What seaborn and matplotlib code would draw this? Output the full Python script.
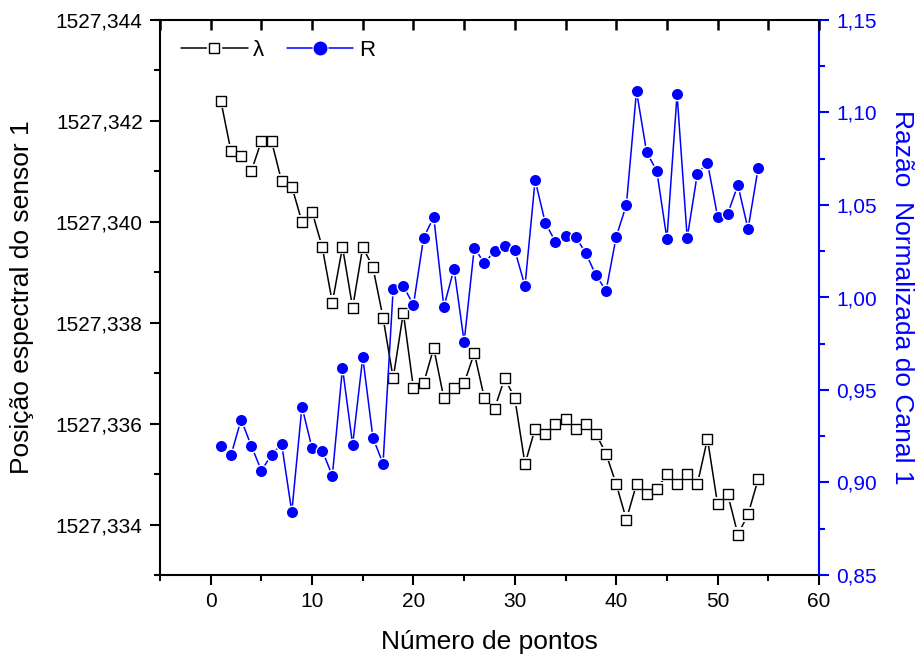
import matplotlib
matplotlib.use("Agg")
import matplotlib.pyplot as plt
from matplotlib.lines import Line2D
from matplotlib.legend_handler import HandlerTuple
from matplotlib.ticker import FixedLocator, FuncFormatter
import numpy as np
import pandas as pd
import seaborn as sns

# Measurement index
pontos = list(range(1, 55))

# Spectral position of sensor 1 (nm)
lam = [1527.3424, 1527.3414, 1527.3413, 1527.3410, 1527.3416, 1527.3416, 1527.3408, 1527.3407, 1527.3400, 1527.3402,
       1527.3395, 1527.3384, 1527.3395, 1527.3383, 1527.3395, 1527.3391, 1527.3381, 1527.3369, 1527.3382, 1527.3367,
       1527.3368, 1527.3375, 1527.3365, 1527.3367, 1527.3368, 1527.3374, 1527.3365, 1527.3363, 1527.3369, 1527.3365,
       1527.3352, 1527.3359, 1527.3358, 1527.3360, 1527.3361, 1527.3359, 1527.3360, 1527.3358, 1527.3354, 1527.3348,
       1527.3341, 1527.3348, 1527.3346, 1527.3347, 1527.3350, 1527.3348, 1527.3350, 1527.3348, 1527.3357, 1527.3344,
       1527.3346, 1527.3338, 1527.3342, 1527.3349]

# Normalised ratio of channel 1
razao = [0.9197, 0.9147, 0.9340, 0.9199, 0.9064, 0.9150, 0.9208, 0.8840, 0.9410, 0.9185,
         0.9172, 0.9037, 0.9619, 0.9204, 0.9677, 0.9242, 0.9102, 1.0048, 1.0062, 0.9960,
         1.0323, 1.0435, 0.9949, 1.0156, 0.9760, 1.0269, 1.0185, 1.0253, 1.0278, 1.0255,
         1.0062, 1.0635, 1.0404, 1.0302, 1.0332, 1.0327, 1.0240, 1.0120, 1.0037, 1.0329,
         1.0500, 1.1116, 1.0785, 1.0684, 1.0316, 1.1098, 1.0322, 1.0669, 1.0729, 1.0437,
         1.0453, 1.0608, 1.0370, 1.0700]

# Axis ticks
x_ticks = [0, 10, 20, 30, 40, 50, 60]
x_minor = [-5, 5, 15, 25, 35, 45, 55]
lam_ticks = [1527.334, 1527.336, 1527.338, 1527.340, 1527.342, 1527.344]
lam_minor = [1527.333, 1527.335, 1527.337, 1527.339, 1527.341, 1527.343]
r_ticks = [0.85, 0.90, 0.95, 1.00, 1.05, 1.10, 1.15]
r_minor = [0.875, 0.925, 0.975, 1.025, 1.075, 1.125]

df = pd.DataFrame({"pontos": pontos, "lam": lam, "razao": razao})

sns.set_style("ticks")
plt.rcParams["font.family"] = ["Liberation Sans", "DejaVu Sans"]
plt.rcParams["text.color"] = "black"
plt.rcParams["axes.labelcolor"] = "black"
plt.rcParams["xtick.color"] = "black"
plt.rcParams["ytick.color"] = "black"

BLUE = "#0000ff"
fig = plt.figure(figsize=(9.19, 6.62), dpi=100)
ax = fig.add_axes([160 / 919, 1 - 575 / 662, 659 / 919, 555 / 662])
ax2 = ax.twinx()

# Wavelength series: line, white halo, open squares
sns.lineplot(data=df, x="pontos", y="lam", ax=ax, color="black", lw=1.1, zorder=2)
sns.scatterplot(data=df, x="pontos", y="lam", ax=ax, marker="s", s=110, color="white",
                edgecolor="none", zorder=3)
sns.scatterplot(data=df, x="pontos", y="lam", ax=ax, marker="s", s=50, color="white",
                edgecolor="black", linewidth=1.0, zorder=4)

# Ratio series: line and filled circles
sns.lineplot(data=df, x="pontos", y="razao", ax=ax2, color=BLUE, lw=1.1, zorder=2)
sns.scatterplot(data=df, x="pontos", y="razao", ax=ax2, marker="o", s=80, color=BLUE,
                edgecolor="white", linewidth=1.0, zorder=4)

ax.set_xlim(-5, 60)
ax.set_ylim(1527.333, 1527.344)
ax2.set_ylim(0.85, 1.15)

comma = lambda fmt: FuncFormatter(lambda v, p: (fmt % v).replace(".", ","))
ax.xaxis.set_major_locator(FixedLocator(x_ticks))
ax.xaxis.set_minor_locator(FixedLocator(x_minor))
ax.yaxis.set_major_locator(FixedLocator(lam_ticks))
ax.yaxis.set_minor_locator(FixedLocator(lam_minor))
ax.yaxis.set_major_formatter(comma("%.3f"))
ax2.yaxis.set_major_locator(FixedLocator(r_ticks))
ax2.yaxis.set_minor_locator(FixedLocator(r_minor))
ax2.yaxis.set_major_formatter(comma("%.2f"))

lw_axis = 1.5
for s in ax.spines.values():
    s.set_linewidth(lw_axis)
    s.set_color("black")
for name, s in ax2.spines.items():
    s.set_linewidth(lw_axis)
    if name == "right":
        s.set_color(BLUE)
    else:
        s.set_visible(False)
ax.spines["right"].set_visible(False)

ax.tick_params(axis="both", which="major", direction="out", length=7.5, width=lw_axis,
               labelsize=15, colors="black", pad=5)
ax.tick_params(axis="both", which="minor", direction="out", length=4, width=lw_axis,
               colors="black")
ax2.tick_params(axis="y", which="major", direction="out", length=7.5, width=lw_axis,
                labelsize=15, colors=BLUE, pad=5)
ax2.tick_params(axis="y", which="minor", direction="out", length=4, width=lw_axis, colors=BLUE)

# Inward tick marks hanging from the top edge
ax2.vlines(x_ticks + x_minor, 1 - 10 / 555, 1, transform=ax2.get_xaxis_transform(),
           colors="black", lw=lw_axis + 0.3, clip_on=False, zorder=10)

ax.set_xlabel("Número de pontos", fontsize=19, color="black")
ax.xaxis.set_label_coords(0.5, -0.121)
ax.xaxis.label.set_va("center")
ax.set_ylabel("Posição espectral do sensor 1", fontsize=19, color="black")
ax.yaxis.set_label_coords(-0.209, 0.5)
ax.yaxis.label.set_va("center")
ax2.set_ylabel("Razão  Normalizada do Canal 1", fontsize=19, color=BLUE, rotation=270)
ax2.yaxis.set_label_coords(1.126, 0.5)
ax2.yaxis.label.set_va("center")

# Legend keys: line broken by a white gap around each marker
lam_key = (
    Line2D([], [], color="black", lw=1.1),
    Line2D([], [], ls="none", marker="s", markersize=10.5, markerfacecolor="white",
           markeredgecolor="white"),
    Line2D([], [], ls="none", marker="s", markersize=7, markerfacecolor="white",
           markeredgecolor="black", markeredgewidth=1.0),
)
r_key = (
    Line2D([], [], color=BLUE, lw=1.1),
    Line2D([], [], ls="none", marker="o", markersize=10.5, markerfacecolor="white",
           markeredgecolor="white"),
    Line2D([], [], ls="none", marker="o", markersize=9, markerfacecolor=BLUE,
           markeredgecolor=BLUE),
)
leg = ax2.legend([lam_key, r_key], ["λ", "R"], loc="upper left", bbox_to_anchor=(0.01, 0.99),
                 ncol=2, frameon=False, fontsize=16, handlelength=3.0, handletextpad=0.25,
                 columnspacing=1.0, borderaxespad=0.25,
                 handler_map={tuple: HandlerTuple(ndivide=1, pad=0)})
for t in leg.get_texts():
    t.set_color("black")

fig.savefig("out.png", dpi=100)
